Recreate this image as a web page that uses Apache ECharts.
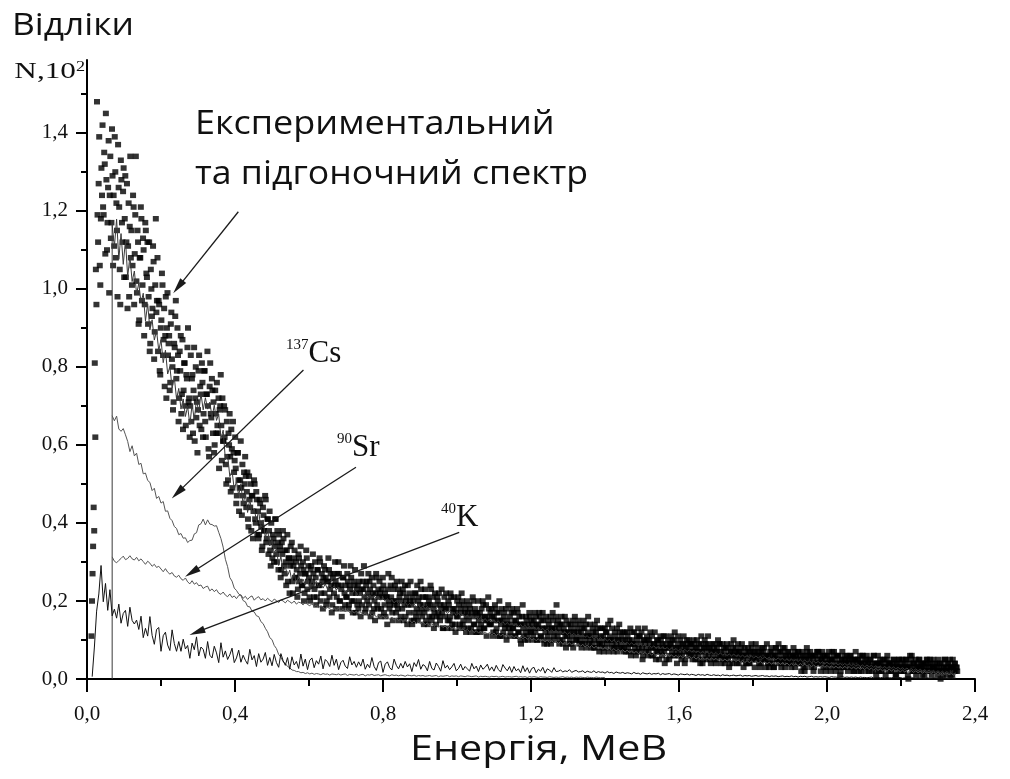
<!DOCTYPE html>
<html>
<head>
<meta charset="utf-8">
<script src="https://cdn.jsdelivr.net/npm/echarts@6/dist/echarts.min.js"></script>
<style>
  html, body { margin: 0; padding: 0; background: #ffffff; }
  #chart { width: 1010px; height: 779px; }
</style>
</head>
<body>
<div id="chart"></div>
<script>
// Measured spectrum: counts per channel, channel energy = start + i * width (MeV)
const CHANNEL_START = 0.012;
const CHANNEL_WIDTH = 0.0015;
const measuredCounts = [
  11,20,27,34,44,38,81,62,105,96,148,119,112,127,139,106,101,118,131,124,
  142,121,119,135,132,109,145,128,110,117,126,138,99,124,134,113,117,141,129,106,
  124,111,139,130,108,122,115,98,137,126,121,105,96,133,128,117,112,125,131,103,
  118,129,103,112,127,95,111,122,98,116,134,108,115,101,106,124,121,96,109,119,
  134,102,99,115,112,91,92,108,108,121,118,97,101,113,110,88,96,117,115,104,
  103,112,91,98,112,84,86,105,100,93,95,111,107,82,89,101,118,94,97,108,
  84,97,96,79,78,90,92,104,101,83,87,95,75,88,98,72,90,99,83,86,
  88,74,76,91,94,82,80,69,71,86,85,93,97,77,79,90,83,66,72,84,
  79,88,68,73,87,64,74,81,81,70,65,78,77,85,90,71,72,62,70,83,
  66,77,78,63,74,85,61,72,80,67,71,58,69,79,83,65,75,73,64,81,
  76,62,68,79,79,66,62,73,73,84,70,59,57,75,81,68,67,77,74,63,
  71,58,60,74,68,63,76,65,63,72,54,69,70,78,65,56,72,61,61,70,
  62,69,55,50,66,57,51,63,60,68,57,48,64,59,49,66,58,53,56,62,
  54,45,47,58,58,51,43,49,51,61,49,42,55,47,45,53,50,57,52,44,
  48,53,41,39,52,46,44,50,38,47,47,36,43,51,50,41,40,48,46,37,
  43,36,37,46,45,40,39,33,34,44,42,38,38,47,46,35,36,41,41,32,
  38,43,33,29,40,35,31,37,36,30,34,41,41,32,30,38,35,28,37,33,
  34,26,28,35,32,38,36,29,27,33,30,24,33,37,25,31,31,22,29,34,
  30,35,25,22,29,31,33,26,26,30,28,21,23,32,31,25,27,34,29,24,
  24,30,28,20,22,27,27,33,31,23,25,29,26,21,20,28,29,24,25,32,
  27,21,23,30,26,19,21,28,28,24,24,31,30,20,22,27,25,18,26,29,
  22,28,26,19,20,25,25,31,28,21,23,27,24,17,19,26,27,22,24,30,
  25,18,21,27,24,30,27,20,20,24,23,16,18,26,26,29,22,19,24,21,
  21,27,25,18,19,24,23,29,26,20,22,17,20,25,24,28,17,22,23,19,
  24,18,20,25,22,16,27,23,19,25,23,29,21,17,18,24,25,20,22,27,
  19,25,23,16,21,26,17,22,24,18,20,15,22,27,26,19,18,23,21,25,
  22,16,18,23,21,26,24,17,19,22,16,21,21,14,23,27,20,18,19,24,
  21,26,17,15,23,20,19,24,20,17,25,19,18,23,15,21,22,16,20,25,
  18,23,22,15,19,24,16,20,21,14,24,19,17,22,20,25,19,15,14,21,
  20,15,17,22,22,16,18,24,15,20,21,17,19,25,23,18,16,21,19,14,
  17,23,21,15,18,21,14,19,20,16,19,24,23,15,16,21,18,13,17,22,
  19,14,16,21,20,17,22,16,15,19,18,23,17,13,13,19,21,16,18,22,
  18,13,15,20,19,15,16,22,21,13,14,18,17,21,18,14,12,17,16,20,
  16,21,19,13,14,18,17,22,20,14,15,19,13,17,18,12,16,20,17,13,
  15,19,18,12,13,17,16,21,20,14,14,18,17,12,12,17,16,20,15,13,
  17,12,14,18,16,20,19,13,13,16,15,19,11,15,16,21,18,14,14,17,
  14,18,16,11,12,16,15,19,18,12,13,17,15,11,17,20,11,15,14,18,
  15,11,12,16,17,13,14,18,10,14,15,19,13,11,16,12,14,17,18,13,
  13,17,15,11,11,15,14,18,17,12,12,16,14,10,9,14,16,19,13,11,
  14,10,12,16,15,11,10,14,13,17,16,12,12,15,14,10,11,15,13,17,
  12,16,14,10,10,14,13,17,16,11,11,15,13,17,15,10,9,13,12,16,
  13,9,11,15,14,10,12,16,9,13,13,17,15,11,10,13,12,16,19,14,
  11,15,13,9,10,14,12,16,14,10,9,13,12,16,11,8,15,11,12,14,
  12,9,10,14,13,9,11,15,8,12,12,16,14,10,10,13,11,15,12,9,
  10,14,12,8,9,13,11,15,13,9,10,14,8,11,12,16,11,9,14,10,
  11,8,9,13,12,8,10,14,8,12,11,15,13,9,10,7,9,13,11,8,
  9,13,11,7,10,13,8,12,12,9,10,14,7,10,11,15,10,8,13,9,
  10,7,8,12,11,8,9,13,7,10,10,14,12,8,9,11,8,12,10,7,
  8,12,10,7,9,12,11,8,7,10,9,13,6,9,10,12,9,7,12,8,
  9,6,7,11,10,13,8,11,11,7,9,12,8,5,6,10,10,13,9,7,
  8,11,10,6,7,10,9,12,8,6,11,8,6,9,9,12,8,5,7,10,
  7,10,9,5,8,11,10,7,6,9,8,11,7,4,9,11,5,8,8,10,
  8,5,6,9,9,11,7,10,8,6,10,12,6,8,7,4,9,11,8,6,
  7,10,8,5,6,9,9,11,7,4,5,8,8,10,7,9,10,6,7,9,
  6,9,8,5,7,10,9,6,5,8,7,10,8,5,6,9,7,4,9,11,
  7,4,5,8,8,10,6,9,7,5,9,11,6,8,8,5,4,7,7,9,
  6,9,8,5,7,4,5,8,7,10,6,9,9,6,7,4,6,9,5,8,
  7,4,5,8,6,9,8,5,6,3,4,7,7,9,6,4,8,10,6,7,
  5,8,7,4,6,9,4,7,7,5,6,8,9,6,5,3,6,8,7,4,
  6,4,5,8,7,4,4,7,6,9,8,5,5,7,6,3,7,9,5,6,
  5,8,7,4,6,3,4,7,6,8,5,7,8,5,5,3,6,9,6,4,
  6,3,4,7,5,8,7,4,6,3,3,6,6,8,8,5,5,7,9,4,
  5,7,6,3,4,7,8,5,5,8,3,6,6,4,5,7,7,4,4,6,
  5,3,4,6,6,8,5,7,3,6,6,4,5,7,7,4,4,6,5,2,
  4,7,6,3,5,2,3,6,5,8,7,4,4,6,5,7,6,3,4,6,
  5,2,3,6,6,4,4,7,5,7,7,4,4,6,2,5,5,7,6,3,
  4,6,5,2,3,6,6,4,4,7,5,3,2,5,5,7,4,6,7,3,
  5,2,3,6,4,6,6,3,4,1,2,5,5,7,4,3,3,6,5,4,
  4,6,5,2,3,5,4,6,6,3,3,5,4,2,2,5,5,7,4,3,
  3,5,5,2,4,6,2,4,4,6,6,3,3,5,4,2,5,6,3,4,
  4,2,3,5,5,3,2,4,3,6,6,3,4,2,1,4,4,6,4,2,
  3,5,4,2,2,4,5,3,3,5,3,1,3,5,6,4,2,4,4,3,
  4,2,2,4,3,5,5,3,3,1,1,4,4,2,3,5,5,3,3,2,
  3,5,4,2,2,4,3,5,5,3,3,1,0,3,4,6,3,5,6,2,
  2,4,4,2,3,5,1,3,4,2,3,5,5,3,2,4,3,1,4,4,
  3,1,2,4,3,5,5,2,2,4,3,5,4,2,1,3,3,5,3,2,
  4,2,2,4,3,1,5,3,2,4,0,2,4,2,1,3,3,5,5,2,
  3,1,2,4,4,2,3,5,1,3,3,1,5,3,2,4,4,2,3,3,
  2
];

// Fitted and component spectra on a coarser grid, starting at the discrimination threshold
const LINE_START = 0.068;
const LINE_STEP = 0.006;
const fitCounts = [
  116.5,110.8,117.9,107.6,114.2,106.3,112.5,103.1,108.4,101.9,
  104.6,98.7,101.5,96.4,98.9,91.8,96.2,89.5,92.1,86.9,
  89.3,84.2,87.0,81.1,84.3,78.2,80.1,74.6,77.3,71.8,
  74.5,69.2,71.8,67.3,69.9,65.2,70.4,66.5,71.8,68.3,
  73.2,69.0,72.1,69.2,71.0,67.1,70.2,66.3,67.9,61.6,
  63.8,56.2,57.5,51.9,53.4,48.6,50.7,47.0,50.1,44.6,
  47.9,42.7,46.1,42.3,43.8,40.4,43.2,38.3,40.8,36.2,
  38.6,34.1,35.6,32.3,33.4,29.1,31.4,27.6,28.8,26.5,
  27.9,25.0,27.2,24.3,26.6,24.4,25.6,24.2,25.7,23.4,
  25.6,24.1,25.0,23.5,24.6,23.3,24.4,23.0,24.1,23.2,
  23.9,22.8,23.6,22.5,23.3,22.1,23.0,22.4,21.8,22.7,
  22.2,21.3,22.0,21.1,21.8,20.8,21.6,20.7,21.4,20.5,
  21.1,20.2,20.9,19.9,20.6,19.8,20.4,19.5,20.1,19.3,
  19.9,19.0,19.7,18.8,19.4,18.6,19.2,18.4,19.0,18.2,
  18.8,17.9,18.6,17.7,18.3,17.5,18.1,17.2,17.8,17.0,
  17.6,16.8,17.4,16.5,17.1,16.3,16.9,16.1,16.6,15.9,
  16.4,15.6,16.2,15.4,15.9,15.2,15.7,14.9,15.5,14.8,
  15.3,14.6,15.1,14.4,14.9,14.1,14.7,13.9,14.5,13.8,
  14.4,13.6,14.2,13.4,14.0,13.2,13.8,13.0,13.5,12.9,
  13.4,12.7,13.2,12.5,13.0,12.3,12.8,12.1,12.6,12.0,
  12.5,11.8,12.3,11.6,12.1,11.4,11.9,11.2,11.7,11.1,
  11.5,10.9,11.3,10.7,11.1,10.5,10.9,10.3,10.7,10.1,
  10.6,9.9,10.4,9.7,10.2,9.5,10.0,9.3,9.8,9.2,
  9.6,9.0,9.4,8.8,9.3,8.7,9.1,8.5,8.9,8.4,
  8.8,8.2,8.6,8.0,8.5,7.9,8.3,7.8,8.2,7.7,
  8.1,7.5,7.9,7.4,7.8,7.2,7.7,7.1,7.6,7.0,
  7.5,6.9,7.3,6.8,7.2,6.6,7.1,6.5,7.0,6.4,
  6.9,6.3,6.8,6.2,6.7,6.1,6.5,6.0,6.4,5.9,
  6.4,5.8,6.2,5.7,6.1,5.6,6.0,5.5,5.9,5.4,
  5.9,5.4,5.8,5.2,5.7,5.1,5.6,5.0,5.4,4.9,
  5.4,4.9,5.3,4.7,5.2,4.6,5.1,4.6,5.0,4.5,
  5.0,4.4,4.9,4.3,4.7,4.2,4.6,4.1,4.5,4.0,
  4.4,3.9,4.3,3.8,4.2,3.7,4.1,3.6,4.0,3.5,
  4.0,3.5,3.9,3.4,3.8,3.3,3.7,3.2,3.6,3.1,
  3.6,3.1,3.5,3.0,3.4,2.9,3.3,2.8,3.2,2.7,
  3.2,2.7,3.1,2.6,3.0,2.5,2.9,2.4,2.8,2.3,
  2.7,2.2,2.6,2.1,2.5,2.0,2.4,1.9,2.3,1.8,
  2.2,1.7,2.1,1.6,2.0,1.5,1.9,1.4,1.8,1.3,1.6
];
const cs137Counts = [
  67.5,66.2,67.4,64.1,63.5,64.2,62.6,60.9,58.3,59.8,
  57.2,57.9,55.0,55.3,52.6,52.8,50.9,50.4,48.3,48.9,
  46.3,46.8,45.1,45.5,43.0,43.1,41.2,40.6,39.1,38.6,
  37.0,37.3,36.1,36.2,35.0,35.5,35.6,37.2,37.5,39.5,
  39.8,41.0,39.5,40.8,39.7,39.6,39.2,39.3,37.6,36.0,
  33.8,30.7,28.8,26.0,25.1,23.3,22.7,21.8,21.4,20.1,
  19.8,18.6,18.5,17.4,17.2,16.2,16.0,14.7,14.2,13.0,
  12.1,10.6,10.1,8.6,7.8,6.3,5.6,4.4,4.0,3.2,
  2.9,2.3,2.2,1.9,1.9,1.6,1.7,1.4,1.6,1.3,
  1.5,1.2,1.4,1.3,1.1,1.4,1.2,1.3,1.0,1.3,
  1.2,1.1,1.3,1.0,1.2,1.3,0.9,1.2,1.1,1.0,
  1.2,0.9,1.1,1.2,0.8,1.1,1.0,1.2,0.9,1.0,
  1.1,0.8,1.0,1.1,0.9,0.8,1.1,0.9,1.0,0.8,
  1.0,0.9,0.7,1.0,0.9,0.8,1.0,0.7,0.9,0.8,
  0.9,0.7,0.8,0.9,0.7,0.8,0.9,0.6,0.8,0.7,
  0.8,0.9,0.6,0.8,0.7,0.8,0.6,0.8,0.7,0.6,
  0.8,0.7,0.6,0.7,0.8,0.5,0.7,0.6,0.7,0.6,
  0.5,0.7,0.6,0.7,0.5,0.6,0.7,0.5,0.6,0.6,
  0.5,0.6,0.7,0.5,0.6,0.5,0.6,0.4,0.6,0.5,
  0.6,0.5,0.4,0.6,0.5,0.5,0.4,0.6,0.5,0.4,
  0.5,0.4,0.5,0.6,0.4,0.5,0.4,0.5,0.3,0.5,
  0.4,0.5,0.4,0.3,0.5,0.4,0.4,0.3,0.5,0.4,0.3,0.4,0.3
];
const sr90Counts = [
  31.3,30.2,29.8,30.4,30.9,31.5,30.6,30.9,31.6,30.8,
  30.5,31.2,30.3,30.8,30.1,29.4,30.2,29.7,28.9,29.4,
  28.6,28.9,28.2,27.5,28.3,27.4,26.9,27.3,26.4,26.1,
  26.6,25.7,25.3,25.9,24.9,24.4,25.2,24.3,24.7,23.9,
  24.1,23.2,23.6,23.8,22.6,23.1,22.4,22.9,22.0,21.7,
  22.3,21.5,21.1,21.8,20.9,21.3,20.6,21.4,21.6,20.7,
  21.2,20.4,21.0,21.3,20.2,20.8,21.1,20.3,20.6,20.0,
  20.7,20.2,19.8,20.5,20.1,19.6,20.3,20.0,19.5,20.2,
  19.8,19.4,20.0,19.2,19.7,19.5,19.0,19.6,19.1,18.8,
  19.3,18.6,19.0,18.3,18.8,18.5,17.9,18.4,18.0,17.7,
  18.3,17.6,18.2,17.4,17.9,17.2,17.8,17.0,17.6,16.9,
  17.4,16.7,17.2,16.4,17.0,16.3,16.9,16.1,16.6,15.9,
  16.4,15.7,16.2,15.5,16.0,15.3,15.9,15.1,15.6,15.0,
  15.4,14.7,15.3,14.5,15.1,14.4,14.9,14.2,14.7,14.1,
  14.6,13.9,14.4,13.6,14.2,13.5,14.0,13.3,13.8,13.2,
  13.6,12.9,13.5,12.8,13.2,12.6,13.1,12.4,12.9,12.3,
  12.7,12.1,12.6,11.9,12.4,11.8,12.2,11.6,12.1,11.5,
  11.9,11.3,11.8,11.1,11.6,11.0,11.5,10.9,11.3,10.8,
  11.2,10.6,11.1,10.4,10.9,10.3,10.8,10.2,10.6,10.0,
  10.4,9.8,10.3,9.7,10.1,9.5,10.0,9.4,9.8,9.3,
  9.7,9.1,9.6,8.9,9.4,8.8,9.3,8.7,9.1,8.6,
  9.0,8.4,8.9,8.2,8.7,8.1,8.6,7.9,8.4,7.8,
  8.2,7.6,8.1,7.5,7.9,7.3,7.8,7.2,7.6,7.1,
  7.5,6.9,7.4,6.8,7.2,6.6,7.1,6.5,6.9,6.4,
  6.8,6.3,6.7,6.1,6.6,6.0,6.5,5.9,6.4,5.9,
  6.3,5.8,6.2,5.6,6.1,5.5,6.0,5.4,5.9,5.4,
  5.8,5.3,5.7,5.1,5.6,5.0,5.5,5.0,5.4,4.9,
  5.4,4.9,5.3,4.7,5.2,4.6,5.1,4.6,5.0,4.5,
  5.0,4.5,4.9,4.3,4.8,4.2,4.7,4.2,4.6,4.1,
  4.7,4.1,4.5,4.0,4.4,3.9,4.3,3.8,4.2,3.8,
  4.3,3.7,4.2,3.6,4.1,3.5,4.0,3.5,3.9,3.4,
  4.0,3.4,3.8,3.3,3.7,3.2,3.6,3.1,3.5,3.0,
  3.6,3.0,3.5,2.9,3.4,2.8,3.3,2.8,3.2,2.7,
  3.3,2.7,3.2,2.6,3.1,2.5,3.0,2.5,2.9,2.4,
  3.0,2.4,2.8,2.3,2.7,2.2,2.6,2.1,2.5,2.0,
  2.6,2.0,2.5,1.9,2.4,1.8,2.3,1.8,2.2,1.7,
  2.2,1.7,2.1,1.6,2.0,1.5,1.9,1.5,1.8,1.4,
  1.8,1.3,1.7,1.2,1.6,1.2,1.5,1.1,1.4,1.0,1.3
];
// 40K component starts below the threshold
const K_START = 0.014;
const k40Counts = [
  0.6,8.2,17.4,21.8,29.1,19.8,24.5,17.6,22.9,16.2,
  17.9,15.6,19.2,14.3,16.8,17.6,13.5,18.4,15.0,14.1,
  15.1,12.7,16.1,10.6,13.0,11.0,16.0,11.2,8.9,12.7,
  13.2,7.1,11.1,12.0,8.7,7.3,12.6,9.1,7.1,9.6,
  7.1,10.2,7.7,8.6,5.3,9.2,7.5,10.8,5.9,8.2,
  7.6,5.3,9.6,6.1,5.4,8.4,6.7,4.2,9.3,5.6,
  7.2,5.0,6.2,7.9,4.2,5.4,7.4,4.3,6.1,4.8,
  3.8,7.6,4.9,6.0,3.2,6.5,4.3,5.1,6.8,3.5,
  5.5,3.4,6.3,4.2,3.0,6.5,4.7,3.5,5.5,2.5,
  5.7,3.6,4.5,2.7,6.4,3.3,5.1,2.4,4.8,5.4,
  2.9,4.7,3.8,5.9,2.6,5.0,4.4,3.2,6.1,3.5,
  5.1,2.4,4.2,4.8,3.3,2.7,5.7,3.6,4.5,3.0,
  4.4,3.3,5.1,2.5,3.8,2.9,5.5,3.2,2.2,4.2,
  4.6,1.7,3.8,4.4,2.9,2.3,5.1,3.5,2.6,4.0,
  2.8,4.5,3.1,3.9,1.9,4.2,3.2,5.0,2.5,3.7,
  3.3,2.1,4.5,2.7,2.3,4.1,3.2,2.0,4.7,2.8,
  3.5,2.4,3.1,4.0,2.1,2.7,3.8,2.3,3.2,2.6,
  2.0,4.0,2.6,3.3,1.9,3.6,2.5,3.0,3.8,2.2,
  3.1,2.0,3.5,2.4,1.8,3.7,2.8,2.1,3.2,1.7,
  3.2,2.1,2.6,1.6,3.4,1.9,2.9,1.5,2.7,3.0,
  1.6,2.5,2.0,3.0,1.5,2.6,2.3,1.7,2.9,1.9,
  2.0,2.3,1.8,2.1,1.9,2.4,1.7,2.0,2.2,1.8,
  1.9,2.1,1.6,2.0,1.8,1.7,2.1,1.6,1.9,1.7,
  1.8,1.5,1.9,1.6,1.7,1.4,1.8,1.6,1.5,1.7,
  1.4,1.6,1.5,1.3,1.7,1.4,1.5,1.2,1.6,1.4,
  1.3,1.5,1.2,1.4,1.3,1.5,1.1,1.4,1.2,1.3,
  1.4,1.1,1.3,1.2,1.0,1.3,1.2,1.1,1.3,1.0,
  1.2,1.1,0.9,1.2,1.0,1.1,0.9,1.2,1.0,0.9,
  1.1,0.9,1.0,0.8,1.1,0.9,1.0,0.8,0.9,1.0,
  0.8,0.9,1.0,0.7,0.9,0.8,0.9,0.7,0.8,0.9,
  0.7,0.8,0.9,0.7,0.8,0.6,0.8,0.7,0.8,0.6,
  0.7,0.8,0.6,0.7,0.6,0.8,0.6,0.7,0.5,0.7,
  0.6,0.7,0.5,0.6,0.7,0.5,0.6,0.5,0.6,0.5,
  0.6,0.5,0.4,0.6,0.5,0.5,0.4,0.5,0.6,0.4,
  0.5,0.4,0.5,0.4,0.5,0.3,0.5,0.4,0.4,0.3,
  0.4,0.5,0.3,0.4,0.4,0.3,0.4,0.3,0.4,0.3,
  0.3,0.4,0.3,0.3,0.4,0.2,0.3,0.3,0.2,0.3,
  0.3,0.2,0.3,0.2,0.3,0.2,0.3,0.2,0.2,0.3,
  0.2,0.2,0.3,0.2,0.2,0.1,0.2,0.2,0.1,0.2
];

// Axis ticks (energy in MeV, counts in hundreds)
const xTicks = [0, 0.4, 0.8, 1.2, 1.6, 2.0, 2.4];
const yTicks = [0, 0.2, 0.4, 0.6, 0.8, 1.0, 1.2, 1.4];
const Y_TOP = 1.587;

// Callout arrows [tail, tip] in data coordinates
const annotationArrows = [
  { from: [0.409, 1.198], to: [0.233, 0.989] },
  { from: [0.585, 0.792], to: [0.229, 0.463] },
  { from: [0.727, 0.543], to: [0.265, 0.262] },
  { from: [1.006, 0.376], to: [0.277, 0.113] }
];

const SANS = '"Open Sans", "Noto Sans", sans-serif';
const SERIF = '"Liberation Serif", "DejaVu Serif", serif';

function toPoints(start, step, counts) {
  return counts.map((c, i) => [+(start + i * step).toFixed(5), c / 100]);
}
const fmt = v => v.toFixed(1).replace('.', ',');

const measuredPts = toPoints(CHANNEL_START, CHANNEL_WIDTH, measuredCounts);
const fitPts = toPoints(LINE_START, LINE_STEP, fitCounts);
fitPts.unshift([LINE_START, 0]); // rise at the threshold
const csPts = toPoints(LINE_START, LINE_STEP, cs137Counts);
const srPts = toPoints(LINE_START, LINE_STEP, sr90Counts);
const kPts = toPoints(K_START, LINE_STEP, k40Counts);

const chart = echarts.init(document.getElementById('chart'), null, { renderer: 'canvas' });

const axisCommon = {
  axisLine: { lineStyle: { color: '#000', width: 2 } },
  splitLine: { show: false },
  minorSplitLine: { show: false }
};

chart.setOption({
  animation: false,
  backgroundColor: '#ffffff',
  grid: { left: 87, right: 35, top: 60, bottom: 100, containLabel: false },
  xAxis: Object.assign({
    type: 'value', min: 0, max: 2.4, interval: 0.4,
    axisTick: { show: true, length: 13, lineStyle: { color: '#000', width: 2 }, customValues: xTicks },
    minorTick: { show: true, splitNumber: 2, length: 7, lineStyle: { color: '#000', width: 2 } },
    axisLabel: { margin: 25, color: '#111', fontFamily: SERIF, fontSize: 21, formatter: fmt, customValues: xTicks }
  }, axisCommon),
  yAxis: Object.assign({
    type: 'value', min: 0, max: Y_TOP, interval: 0.2,
    axisTick: { show: true, length: 11, lineStyle: { color: '#000', width: 2 }, customValues: yTicks },
    minorTick: { show: true, splitNumber: 2, length: 6, lineStyle: { color: '#000', width: 2 } },
    axisLabel: { margin: 19, color: '#111', fontFamily: SERIF, fontSize: 21, formatter: fmt, customValues: yTicks }
  }, axisCommon),
  series: [
    {
      name: 'measured', type: 'scatter', data: measuredPts,
      symbol: 'rect', symbolSize: [6, 5.5],
      itemStyle: { color: '#000' }, z: 2, silent: true
    },
    {
      name: 'fit', type: 'line', data: fitPts, showSymbol: false,
      lineStyle: { color: '#3a3a3a', width: 1 }, z: 3, silent: true
    },
    {
      name: '137Cs', type: 'line', data: csPts, showSymbol: false,
      lineStyle: { color: '#555', width: 1 }, z: 3, silent: true
    },
    {
      name: '90Sr', type: 'line', data: srPts, showSymbol: false,
      lineStyle: { color: '#555', width: 1 }, z: 3, silent: true
    },
    {
      name: '40K', type: 'line', data: kPts, showSymbol: false,
      lineStyle: { color: '#111', width: 1 }, z: 3, silent: true
    }
  ]
});

// Callouts, titles and isotope labels
function arrowGraphics() {
  const out = [];
  annotationArrows.forEach(a => {
    const p0 = chart.convertToPixel({ gridIndex: 0 }, a.from);
    const p1 = chart.convertToPixel({ gridIndex: 0 }, a.to);
    const dx = p1[0] - p0[0], dy = p1[1] - p0[1];
    const len = Math.hypot(dx, dy), ux = dx / len, uy = dy / len;
    const head = 16, half = 3.8;
    const bx = p1[0] - ux * head, by = p1[1] - uy * head;
    out.push({ type: 'line', silent: true, z: 10,
      shape: { x1: p0[0], y1: p0[1], x2: bx + ux * 2, y2: by + uy * 2 },
      style: { stroke: '#1a1a1a', lineWidth: 1.3 } });
    out.push({ type: 'polygon', silent: true, z: 10,
      shape: { points: [[p1[0], p1[1]], [bx - uy * half, by + ux * half], [bx + uy * half, by - ux * half]] },
      style: { fill: '#1a1a1a' } });
  });
  return out;
}

function isotopeLabel(mass, symbol, x, y) {
  return {
    type: 'text', x: x, y: y, silent: true, z: 10,
    style: {
      text: '{m|' + mass + '}{s|' + symbol + '}',
      verticalAlign: 'top', align: 'left',
      rich: {
        m: { fontFamily: SERIF, fontSize: 15, lineHeight: 10, verticalAlign: 'top', fill: '#111' },
        s: { fontFamily: SERIF, fontSize: 31, lineHeight: 31, verticalAlign: 'bottom', fill: '#111' }
      }
    }
  };
}

function sansText(text, x, yMid, size, stretch) {
  return {
    type: 'text', x: x, y: yMid, scaleX: stretch, silent: true, z: 10,
    style: { text: text, fontFamily: SANS, fontSize: size, fill: '#111',
      align: 'left', verticalAlign: 'middle', lineHeight: size }
  };
}

chart.setOption({
  graphic: [
    sansText('Відліки', 12, 26, 31, 1.14),
    sansText('Енергія, МеВ', 410, 750, 35, 1.18),
    sansText('Експериментальний', 195, 125, 33, 1.09),
    sansText('та підгоночний спектр', 195, 175, 33, 1.08),
    {
      type: 'text', x: 85, y: 72, scaleX: 1.3, silent: true, z: 10,
      style: {
        text: '{b|N,10}{p|2}', align: 'right', verticalAlign: 'middle',
        rich: {
          b: { fontFamily: SERIF, fontSize: 24, lineHeight: 24, verticalAlign: 'bottom', fill: '#111' },
          p: { fontFamily: SERIF, fontSize: 14, lineHeight: 13, verticalAlign: 'top', fill: '#111' }
        }
      }
    },
    isotopeLabel('137', 'Cs', 286, 338),
    isotopeLabel('90', 'Sr', 337, 432),
    isotopeLabel('40', 'K', 441, 502)
  ].concat(arrowGraphics())
});
</script>
</body>
</html>
